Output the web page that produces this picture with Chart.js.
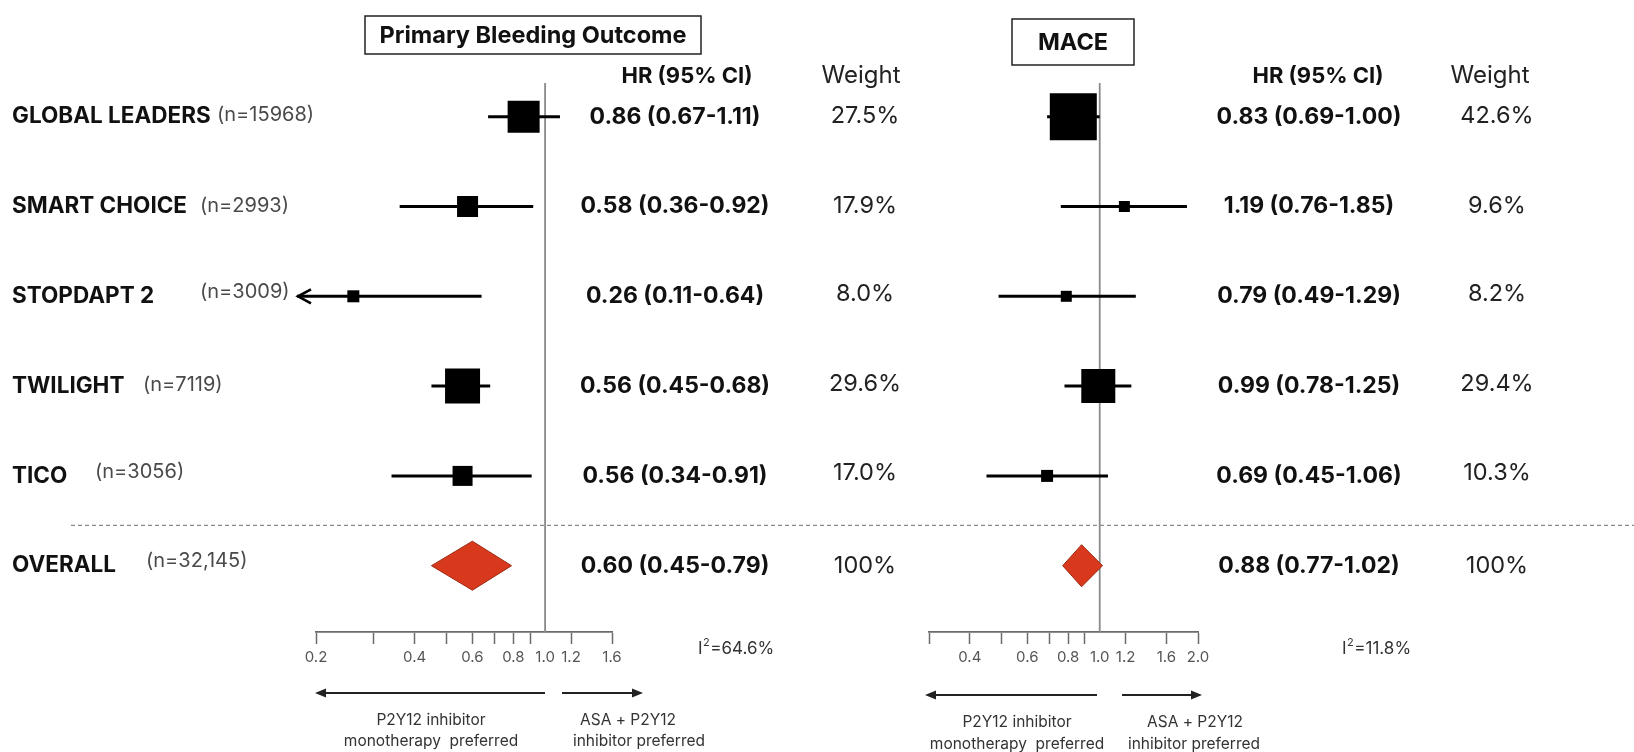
<!DOCTYPE html>
<html>
<head>
<meta charset="utf-8">
<script src="https://cdn.jsdelivr.net/npm/chart.js@4.4.1/dist/chart.umd.min.js"></script>
<style>
  html, body { margin: 0; padding: 0; background: #fff; }
  #wrap { position: relative; width: 1634px; height: 752px; overflow: hidden; }
  #wrap canvas { position: absolute; left: 0; top: 0; }
</style>
</head>
<body>
<div id="wrap">
  <canvas id="bleed" width="1634" height="752"></canvas>
  <canvas id="mace" width="1634" height="752"></canvas>
</div>
<script>
// ---- data ----
const studies     = ['GLOBAL LEADERS', 'SMART CHOICE', 'STOPDAPT 2', 'TWILIGHT', 'TICO', 'OVERALL'];
const sampleSizes = ['(n=15968)', '(n=2993)', '(n=3009)', '(n=7119)', '(n=3056)', '(n=32,145)'];

const bleedHR     = [0.86, 0.58, 0.26, 0.56, 0.56, 0.60];
const bleedLow    = [0.67, 0.36, 0.11, 0.45, 0.34, 0.45];
const bleedHigh   = [1.11, 0.92, 0.64, 0.68, 0.91, 0.79];
const bleedWeight = [27.5, 17.9, 8.0, 29.6, 17.0, 100];
const bleedI2     = 64.6;

const maceHR      = [0.83, 1.19, 0.79, 0.99, 0.69, 0.88];
const maceLow     = [0.69, 0.76, 0.49, 0.78, 0.45, 0.77];
const maceHigh    = [1.00, 1.85, 1.29, 1.25, 1.06, 1.02];
const maceWeight  = [42.6, 9.6, 8.2, 29.4, 10.3, 100];
const maceI2      = 11.8;

const bleedTicks      = [0.2, 0.3, 0.4, 0.5, 0.6, 0.7, 0.8, 0.9, 1.0, 1.2, 1.6];
const bleedTickLabels = [0.2, 0.4, 0.6, 0.8, 1.0, 1.2, 1.6];
const maceTicks       = [0.3, 0.4, 0.5, 0.6, 0.7, 0.8, 0.9, 1.0, 1.2, 1.6, 2.0];
const maceTickLabels  = [0.4, 0.6, 0.8, 1.0, 1.2, 1.6, 2.0];

// ---- styling / layout ----
const FONT = 'Inter';
const W = 1634, H = 752;
const PLOT_TOP = 83, AXIS_H = 40, PAD_BOTTOM = 80;
const Y_MIN = -0.3753, Y_MAX = 5.7383;      // row index range covered by the plot area
const SEPARATOR_ROW = 4.55;
const POOLED = 5;

const F = {
  title:  `bold 23.5px ${FONT}`,
  head:   `bold 22px ${FONT}`,
  weightHead: `24px ${FONT}`,
  label:  `bold 22.5px ${FONT}`,
  n:      `20px ${FONT}`,
  hr:     `bold 23px ${FONT}`,
  weight: `23.5px ${FONT}`,
  i2:     `17px ${FONT}`,
  i2sup:  `11px ${FONT}`,
  note:   `15.5px ${FONT}`
};

const panels = [
  {
    canvas: 'bleed', hr: bleedHR, low: bleedLow, high: bleedHigh, weight: bleedWeight, i2: bleedI2,
    ticks: bleedTicks, tickLabels: bleedTickLabels, xMin: 0.2, xMax: 1.6, left: 316, right: 612,
    clampLow: 0.175, boxSide: [32, 21, 12, 35, 20], diamondHalf: 0.273,
    title: 'Primary Bleeding Outcome', titleBox: [365, 16, 701, 54],
    hrHeadX: 687, weightHeadX: 861, hrX: 675, weightX: 865, i2X: 698,
    arrows: [[545, 315, 693], [562, 643, 693]],
    notes: [['P2Y12 inhibitor', 431, 720], ['monotherapy  preferred', 431, 741],
            ['ASA + P2Y12', 628, 720], ['inhibitor preferred', 639, 741]],
    rowLabels: true
  },
  {
    canvas: 'mace', hr: maceHR, low: maceLow, high: maceHigh, weight: maceWeight, i2: maceI2,
    ticks: maceTicks, tickLabels: maceTickLabels, xMin: 0.3, xMax: 2.0, left: 929, right: 1198,
    clampLow: 0, boxSide: [47, 11, 11, 34, 12], diamondHalf: 0.234,
    title: 'MACE', titleBox: [1012, 19, 1134, 65],
    hrHeadX: 1318, weightHeadX: 1490, hrX: 1309, weightX: 1497, i2X: 1342,
    arrows: [[1097, 925, 695], [1122, 1202, 695]],
    notes: [['P2Y12 inhibitor', 1017, 722], ['monotherapy  preferred', 1017, 744],
            ['ASA + P2Y12', 1195, 722], ['inhibitor preferred', 1194, 744]],
    rowLabels: false
  }
];

const nameX    = [217, 200, 200, 143, 95, 146];
const nameDy   = [-2, -1, -4, -1, -4, -5];
const weightDy = [-1, -1, -2, -2, -3, 0];

const fmtHR = (h, l, u) => `${h.toFixed(2)} (${l.toFixed(2)}-${u.toFixed(2)})`;
const fmtW  = w => (w === 100 ? '100%' : w.toFixed(1) + '%');

function arrow(ctx, x0, x1, y) {
  const dir = Math.sign(x1 - x0);
  ctx.beginPath();
  ctx.moveTo(x0, y); ctx.lineTo(x1 - dir * 8, y);
  ctx.stroke();
  ctx.beginPath();
  ctx.moveTo(x1, y); ctx.lineTo(x1 - dir * 11, y - 4.5); ctx.lineTo(x1 - dir * 11, y + 4.5);
  ctx.closePath(); ctx.fill();
}

function decorPlugin(p) {
  return {
    id: 'decor',
    afterDraw(chart) {
      const ctx = chart.ctx;
      const xs = chart.scales.x, ys = chart.scales.y;
      ctx.save();
      ctx.textBaseline = 'middle';

      // title box
      const [bx0, by0, bx1, by1] = p.titleBox;
      ctx.strokeStyle = '#222'; ctx.lineWidth = 1.5;
      ctx.strokeRect(bx0, by0, bx1 - bx0, by1 - by0);
      ctx.fillStyle = '#111'; ctx.textAlign = 'center';
      ctx.font = F.title;
      ctx.fillText(p.title, (bx0 + bx1) / 2, (by0 + by1) / 2 + 1);

      // column heads
      ctx.font = F.head;
      ctx.fillText('HR (95% CI)', p.hrHeadX, 76);
      ctx.font = F.weightHead;
      ctx.fillStyle = '#222';
      ctx.fillText('Weight', p.weightHeadX, 76);

      // rows
      studies.forEach((s, i) => {
        const y = ys.getPixelForValue(i);
        if (p.rowLabels) {
          ctx.textAlign = 'left';
          ctx.font = F.label; ctx.fillStyle = '#111';
          ctx.fillText(s, 12, y);
          ctx.font = F.n; ctx.fillStyle = '#4a4a4a';
          ctx.fillText(sampleSizes[i], nameX[i], y + nameDy[i]);
        }
        ctx.textAlign = 'center';
        ctx.font = F.hr; ctx.fillStyle = '#111';
        ctx.fillText(fmtHR(p.hr[i], p.low[i], p.high[i]), p.hrX, y);
        ctx.font = F.weight; ctx.fillStyle = '#222';
        ctx.fillText(fmtW(p.weight[i]), p.weightX, y + weightDy[i]);
      });

      // truncated confidence interval marker
      p.low.forEach((l, i) => {
        if (l < p.clampLow) {
          const x = xs.getPixelForValue(p.clampLow), y = ys.getPixelForValue(i);
          ctx.strokeStyle = '#000'; ctx.lineWidth = 2.6; ctx.lineJoin = 'miter';
          ctx.beginPath();
          ctx.moveTo(x + 14, y - 7); ctx.lineTo(x + 1, y); ctx.lineTo(x + 14, y + 7);
          ctx.stroke();
        }
      });

      // dashed separator above the pooled row
      if (p.rowLabels) {
        const y = ys.getPixelForValue(SEPARATOR_ROW);
        ctx.strokeStyle = '#8a8a8a'; ctx.lineWidth = 1.2; ctx.setLineDash([4, 3]);
        ctx.beginPath(); ctx.moveTo(71, y); ctx.lineTo(W, y); ctx.stroke();
        ctx.setLineDash([]);
      }

      // heterogeneity
      ctx.textAlign = 'left'; ctx.fillStyle = '#333';
      ctx.font = F.i2;
      ctx.fillText('I', p.i2X, 649);
      const iw = ctx.measureText('I').width;
      ctx.font = F.i2sup;
      ctx.fillText('2', p.i2X + iw + 0.5, 643);
      const sw = ctx.measureText('2').width;
      ctx.font = F.i2;
      ctx.fillText('=' + p.i2.toFixed(1) + '%', p.i2X + iw + sw + 1, 649);

      // direction arrows and notes
      ctx.strokeStyle = '#222'; ctx.fillStyle = '#222'; ctx.lineWidth = 2;
      p.arrows.forEach(([a, b, y]) => arrow(ctx, a, b, y));
      ctx.textAlign = 'center'; ctx.fillStyle = '#333';
      ctx.font = F.note;
      p.notes.forEach(([t, x, y]) => ctx.fillText(t, x, y));

      ctx.restore();
    }
  };
}

function buildChart(p) {
  const rows = [0, 1, 2, 3, 4];
  const datasets = [];

  // study squares
  datasets.push({
    order: 0,
    data: rows.map(i => ({ x: p.hr[i], y: i })),
    pointStyle: 'rect',
    pointRadius: rows.map(i => p.boxSide[i] / Math.SQRT2),
    backgroundColor: '#000', borderColor: '#000', borderWidth: 0,
    clip: false
  });

  // pooled estimate diamond
  const h = p.diamondHalf;
  datasets.push({
    order: 1,
    showLine: true, fill: 'shape',
    data: [
      { x: p.low[POOLED], y: POOLED }, { x: p.hr[POOLED], y: POOLED - h },
      { x: p.high[POOLED], y: POOLED }, { x: p.hr[POOLED], y: POOLED + h },
      { x: p.low[POOLED], y: POOLED }
    ],
    borderColor: '#9c2a14', borderWidth: 1, backgroundColor: '#d8391c',
    pointRadius: 0, tension: 0
  });

  // confidence intervals
  rows.forEach(i => {
    datasets.push({
      order: 2,
      showLine: true,
      data: [{ x: Math.max(p.low[i], p.clampLow), y: i }, { x: p.high[i], y: i }],
      borderColor: '#000', borderWidth: 3, pointRadius: 0, clip: false
    });
  });

  // line of no effect
  datasets.push({
    order: 3,
    showLine: true,
    data: [{ x: 1, y: Y_MIN }, { x: 1, y: Y_MAX }],
    borderColor: '#8a8a8a', borderWidth: 1.8, pointRadius: 0
  });

  return new Chart(document.getElementById(p.canvas), {
    type: 'scatter',
    data: { datasets },
    options: {
      responsive: false, animation: false, devicePixelRatio: 1, events: [],
      layout: { padding: { left: p.left, right: W - p.right, top: PLOT_TOP, bottom: PAD_BOTTOM } },
      plugins: { legend: { display: false }, tooltip: { enabled: false } },
      scales: {
        y: { type: 'linear', min: Y_MIN, max: Y_MAX, reverse: true, display: false },
        x: {
          type: 'logarithmic', min: p.xMin, max: p.xMax, bounds: 'data',
          afterBuildTicks: s => { s.ticks = p.ticks.map(v => ({ value: v })); },
          afterFit: s => { s.height = AXIS_H; },
          grid: {
            display: true, drawOnChartArea: false, drawTicks: true, tickLength: 12, tickWidth: 1.5,
            tickColor: c => (c.tick && c.tick.value === 1 ? 'rgba(0,0,0,0)' : '#6b6b6b')
          },
          border: { display: true, color: '#6b6b6b', width: 1.8 },
          ticks: {
            autoSkip: false, maxRotation: 0, minRotation: 0, padding: 4, color: '#555',
            font: { family: FONT, size: 15 },
            callback: v => (p.tickLabels.includes(v) ? v.toFixed(1) : '')
          }
        }
      }
    },
    plugins: [decorPlugin(p)]
  });
}

panels.forEach(buildChart);
</script>
</body>
</html>
